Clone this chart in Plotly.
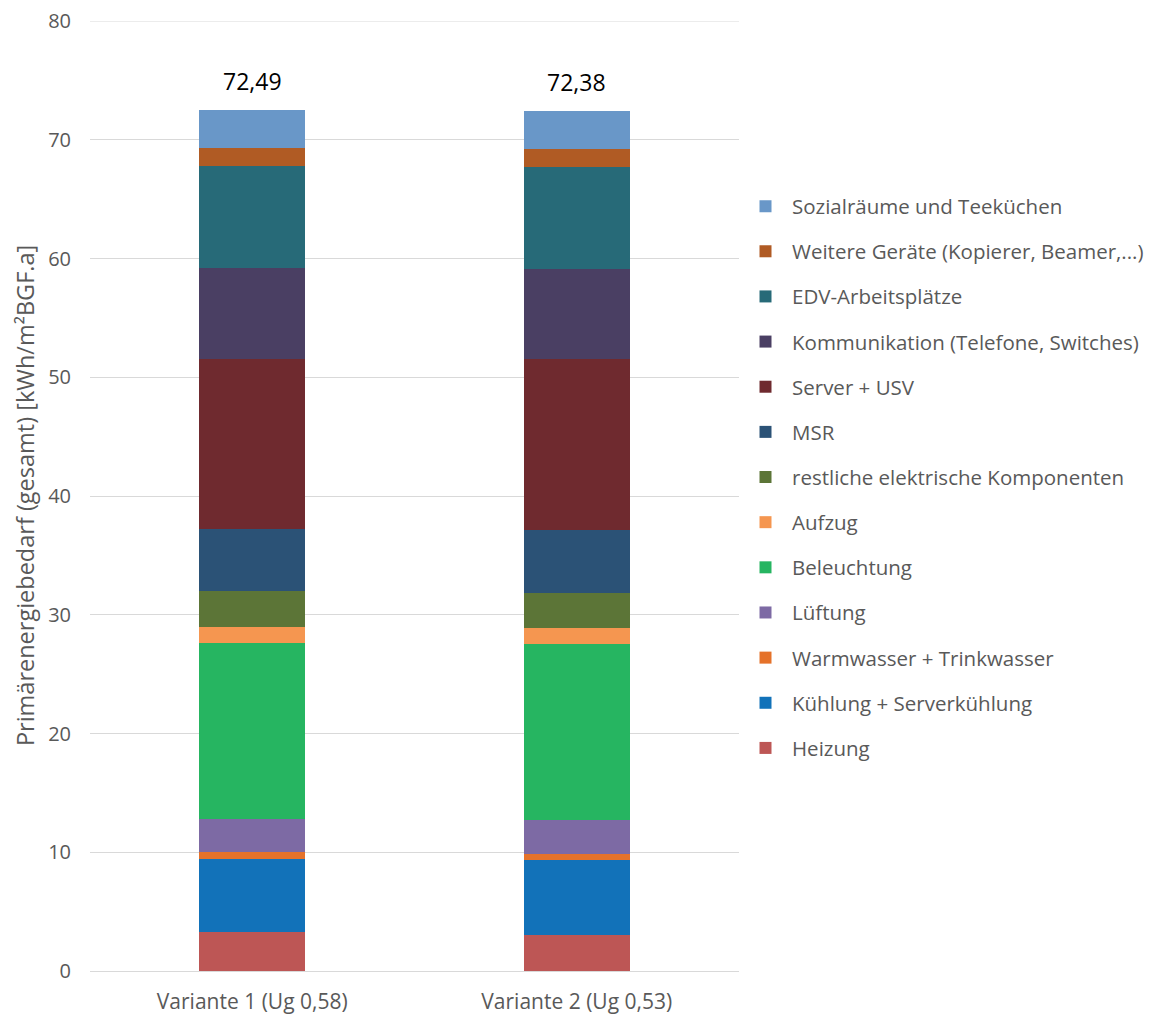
import plotly.graph_objects as go

categories = ["Variante 1 (Ug 0,58)", "Variante 2 (Ug 0,53)"]

series_names = [
    "Heizung",
    "Kühlung + Serverkühlung",
    "Warmwasser + Trinkwasser",
    "Lüftung",
    "Beleuchtung",
    "Aufzug",
    "restliche elektrische Komponenten",
    "MSR",
    "Server + USV",
    "Kommunikation (Telefone, Switches)",
    "EDV-Arbeitsplätze",
    "Weitere Geräte (Kopierer, Beamer,...)",
    "Sozialräume und Teeküchen",
]

heizung = [3.29, 3.07]
kuehlung = [6.15, 6.28]
warmwasser = [0.59, 0.54]
lueftung = [2.75, 2.81]
beleuchtung = [14.81, 14.80]
aufzug = [1.40, 1.40]
restliche = [3.03, 2.93]
msr = [5.17, 5.28]
server = [14.38, 14.41]
kommunikation = [7.67, 7.61]
edv = [8.54, 8.54]
weitere = [1.52, 1.51]
sozial = [3.19, 3.20]

totals = [72.49, 72.38]
total_labels = ["72,49", "72,38"]

y_ticks = [0, 10, 20, 30, 40, 50, 60, 70, 80]
y_title = "Primärenergiebedarf (gesamt) [kWh/m²BGF.a]"

series_values = [heizung, kuehlung, warmwasser, lueftung, beleuchtung, aufzug,
                 restliche, msr, server, kommunikation, edv, weitere, sozial]

colors = ["#bd5655", "#1272b9", "#e5722a", "#7d6aa4", "#26b561", "#f59650",
          "#5c7537", "#2b5276", "#6f2a2f", "#4a3f63", "#276a78", "#b05b24", "#6997c8"]

fig = go.Figure()
for i, (name, vals, col) in enumerate(zip(series_names, series_values, colors)):
    fig.add_trace(go.Bar(
        x=categories, y=vals, name=name, legendgroup=name,
        legendrank=1000 - i,
        marker=dict(color=col, line=dict(width=0)),
    ))

for cat, tot, lab in zip(categories, totals, total_labels):
    fig.add_annotation(x=cat, y=tot, text=lab, showarrow=False,
                       yanchor="bottom", yshift=11,
                       font=dict(size=23, color="#000000", family="Open Sans"))

# y-axis title as rotated text
fig.add_annotation(xref="paper", yref="paper", x=-0.1, y=0.5, text=y_title,
                   textangle=-90, showarrow=False, xanchor="center", yanchor="middle",
                   font=dict(size=23.5, color="#595959", family="Open Sans"))

# top gridline at 80 (sits on the plot edge)
fig.add_shape(type="line", xref="x domain", yref="y", x0=0, x1=1, y0=80, y1=80,
              line=dict(color="#d9d9d9", width=1), layer="below")

fig.update_layout(
    barmode="stack",
    bargap=0.673,
    width=1167, height=1014,
    margin=dict(l=82, r=436, t=13, b=51, autoexpand=False),
    paper_bgcolor="white", plot_bgcolor="white",
    font=dict(family="Open Sans", color="#595959"),
    legend=dict(
        traceorder="grouped",
        tracegroupgap=15.5,
        x=1.0, xanchor="left",
        y=0.826, yanchor="top",
        font=dict(size=20.5, color="#595959", family="Open Sans"),
        itemwidth=43,
    ),
    xaxis=dict(showgrid=False, showline=True, linecolor="#d9d9d9", linewidth=1,
               tickfont=dict(size=21, color="#595959"), ticks="",
               ticklabelstandoff=12, automargin=False),
    yaxis=dict(range=[0, 80], tickvals=y_ticks, showgrid=True, gridcolor="#d9d9d9",
               gridwidth=1, zeroline=False, ticks="", automargin=False,
               ticklabeloverflow="allow",
               tickfont=dict(size=20, color="#595959"), ticklabelstandoff=18),
)

fig.write_html("out.html")
